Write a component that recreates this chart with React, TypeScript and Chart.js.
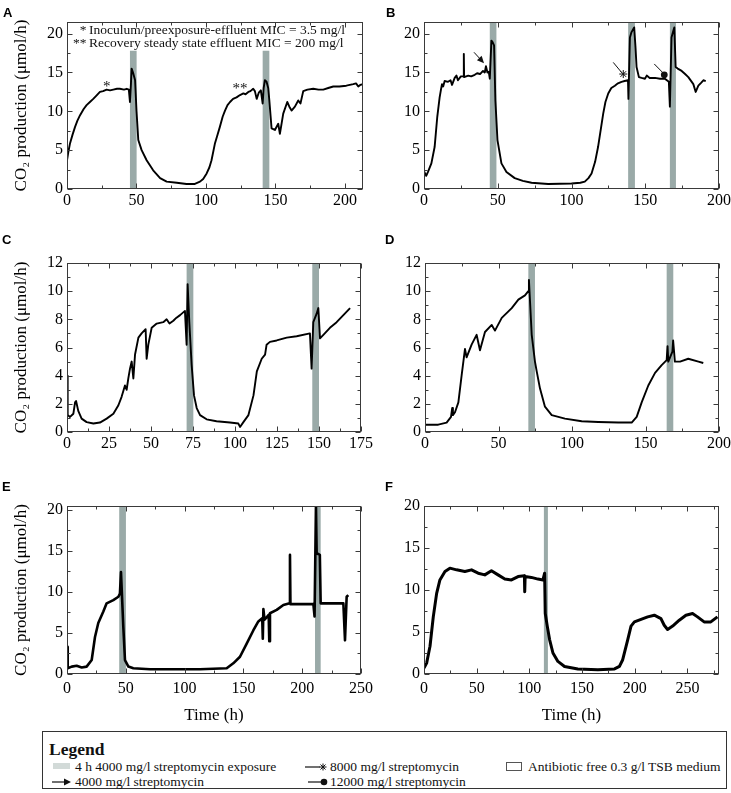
import React, { useEffect, useRef } from 'react';
import { Chart, registerables } from 'chart.js';

Chart.register(...registerables);

const SERIF = '"Liberation Serif", "Times New Roman", Times, serif';
const SANS = '"Liberation Sans", Arial, Helvetica, sans-serif';
const BAND = '#9aaaa8';
const FRAME = '#3a3a3a';

// ---------------- Panel A ----------------
const timeA = [
  0, 1, 2.2, 4, 5.8, 7.5, 9.4, 12, 14.1, 16.5,
  18.9, 21, 23.7, 26, 28.5, 31, 33.3, 36, 38, 41,
  43, 44.5, 45.3, 46, 46.5, 47.5, 49, 50, 51.3, 53.7,
  57.3, 62, 67, 71.7, 79, 86, 92, 95.7, 98, 100.5,
  102.5, 104, 106.5, 108, 110, 112, 113.7, 115.5, 117.3, 119.5,
  122, 124.5, 126.9, 128.5, 130.5, 132, 134, 135.2, 136.5, 138,
  139.5, 140.8, 141.5, 142.4, 143.6, 144.8, 145.6, 147.2, 149.6, 152,
  153.2, 155.6, 158.5, 160, 161.6, 164, 166.4, 168, 170, 173,
  177.2, 181, 184.4, 188, 191.6, 196, 201, 206, 208, 209.6,
  211, 213,
];
const co2A = [
  3.7, 4.8, 5.9, 7.0, 8.0, 8.8, 9.5, 10.3, 10.8, 11.2,
  11.6, 12.0, 12.5, 12.6, 12.8, 12.7, 12.8, 12.9, 12.9, 12.8,
  12.9, 12.8, 11.2, 13.5, 15.5, 15.0, 14.0, 10.1, 6.3, 5.0,
  3.7, 2.4, 1.4, 0.95, 0.8, 0.65, 0.65, 0.95, 1.3, 2.0,
  2.8, 3.7, 5.9, 6.8, 8.0, 9.3, 10.1, 10.8, 11.2, 11.6,
  11.8, 12.1, 12.3, 12.2, 12.5, 12.6, 12.9, 12.6, 11.6, 12.4,
  12.7, 11.0, 13.0, 14.0, 13.8, 13.0, 11.4, 7.8, 7.6, 8.4,
  7.1, 9.7, 11.2, 10.6, 10.1, 10.6, 11.4, 11.0, 12.6, 12.8,
  12.9, 12.8, 12.8, 13.0, 13.2, 13.2, 13.3, 13.5, 13.6, 13.2,
  13.4, 13.5,
];
const bandsA = [[45.3, 50.1], [140.8, 145.6]];
const starMarksA = [
  { x: 28.6, y: 13.1, text: '*' },
  { x: 124.5, y: 12.9, text: '**' },
];
const noteLinesA = [
  { mark: '*', text: 'Inoculum/preexposure-effluent MIC = 3.5 mg/l' },
  { mark: '**', text: 'Recovery steady state effluent MIC = 200 mg/l' },
];

// ---------------- Panel B ----------------
const timeB = [
  0, 1.5, 2.7, 5, 7.2, 9, 10.6, 11.5, 12.2, 13,
  14, 16.3, 18, 19, 20.8, 22, 23, 25, 26.9, 27,
  27.2, 30, 32, 34.4, 36, 38, 40, 41.2, 42, 43,
  43.9, 44.6, 45.7, 46.5, 47.5, 48.4, 49.8, 52.5, 55.9, 61.5,
  67, 72.9, 84.2, 100, 106, 109, 111.5, 113.6, 116, 118,
  121.5, 123, 124.9, 127, 129.4, 131.5, 133.9, 136, 138.3, 138.6,
  139.6, 140.7, 142.5, 143.4, 144.1, 145.7, 147.5, 149.8, 151, 153,
  156.6, 160, 163.3, 166, 166.7, 167.8, 168.8, 169.7, 170.6, 172,
  174.7, 177, 179.2, 182.6, 184.2, 186, 188, 189.4, 191,
];
const co2B = [
  2.3, 1.7, 2.2, 3.3, 5.4, 9.3, 11.8, 12.8, 13.5, 13.2,
  13.9, 13.8, 14.0, 13.4, 14.3, 14.6, 14.0, 14.5, 14.5, 17.4,
  14.4, 14.6, 14.5, 14.7, 14.9, 14.8, 15.2, 15.0, 15.8, 15.0,
  15.1, 14.2, 19.1, 18.9, 18.5, 11.4, 6.3, 3.3, 2.2, 1.4,
  1.05, 0.8, 0.65, 0.7, 0.8, 0.95, 1.4, 2.0, 3.5, 5.4,
  9.7, 11.2, 12.3, 13.0, 13.3, 13.6, 13.8, 13.9, 14.0, 11.6,
  19.5, 20.2, 20.8, 18.2, 15.7, 14.4, 14.3, 14.2, 14.6, 14.3,
  14.3, 14.2, 14.2, 13.8, 10.6, 19.5, 20.2, 20.8, 15.7, 15.5,
  15.2, 14.8, 14.4, 13.5, 12.5, 13.3, 13.7, 14.0, 13.9,
];
const bandsB = [[44.6, 49.1], [138.4, 143], [166.7, 170.8]];
const arrowsB = [
  { from: [33.9, 17.6], to: [40.7, 16.2], end: 'arrow', mark: [40.7, 16.2] },
  { from: [128.3, 16.3], to: [134.0, 15.0], end: 'star', mark: [135.1, 14.8] },
  { from: [156.1, 16.1], to: [161.8, 15.0], end: 'dot', mark: [162.9, 14.7] },
];

// ---------------- Panel C ----------------
const timeC = [
  0, 0.4, 1.8, 3.8, 4.8, 5.4, 6.7, 8.7, 11.7, 15.7,
  19.6, 23.6, 27.6, 30.6, 32.5, 34.5, 35.5, 36.5, 37.5, 38.5,
  39.5, 40.5, 42.5, 44.4, 46.8, 47.4, 48.4, 50.4, 53.4, 57.3,
  59.3, 61, 63.3, 65, 67.3, 70.2, 71.2, 71.8, 72.8, 74.2,
  75.6, 77.2, 79.2, 83.1, 89, 97, 102, 103, 105, 108,
  111, 113, 115.9, 117.9, 118.8, 120.8, 124.8, 130.8, 136.7, 144.6,
  145.6, 146.6, 148.6, 149.6, 150.6, 152.6, 156.5, 160.5, 164.5, 168.5,
];
const co2C = [
  4.0, 1.2, 1.07, 1.3, 2.1, 2.2, 1.5, 0.95, 0.7, 0.6,
  0.67, 0.95, 1.3, 1.9, 2.5, 3.3, 3.0, 3.8, 4.5, 5.0,
  3.8, 5.5, 6.7, 7.0, 7.3, 5.2, 6.2, 7.4, 7.7, 7.8,
  8.0, 7.7, 7.9, 8.1, 8.3, 8.6, 6.2, 10.5, 7.8, 4.75,
  2.6, 1.7, 1.2, 0.9, 0.76, 0.67, 0.6, 0.36, 0.7, 1.2,
  2.6, 4.3, 5.2, 5.5, 6.2, 6.4, 6.5, 6.7, 6.8, 7.0,
  4.5, 7.8, 8.4, 8.8, 6.65, 6.9, 7.4, 7.8, 8.3, 8.8,
];
const bandsC = [[71.2, 75.2], [146, 150]];

// ---------------- Panel D ----------------
const timeD = [
  0, 9, 14.7, 17.7, 18.5, 19, 20.4, 22.7, 24.9, 27.2,
  28.3, 31.7, 35.1, 37.4, 40.8, 45.4, 47.6, 52.2, 59, 63.5,
  68, 70.3, 70.7, 72.6, 74.8, 76, 78.2, 81.6, 86.2, 95.2,
  106.6, 117.9, 131.5, 140.6, 144, 147.4, 151.9, 156.5, 161, 164.4,
  165, 165.5, 166.7, 168.3, 168.8, 170, 173.5, 179.1, 186, 189.3,
];
const co2D = [
  0.52, 0.52, 0.67, 1.07, 1.7, 1.2, 1.4, 2.1, 4.0, 5.9,
  5.3, 6.2, 6.9, 5.8, 7.1, 7.6, 7.2, 8.1, 8.8, 9.4,
  9.7, 10.0, 10.8, 6.9, 5.0, 4.3, 3.1, 1.8, 1.2, 0.95,
  0.76, 0.71, 0.67, 0.67, 1.07, 2.1, 3.3, 4.2, 4.75, 5.1,
  6.1, 5.0, 5.3, 5.7, 6.5, 5.0, 5.0, 5.2, 5.0, 4.9,
];
const bandsD = [[70.3, 74.8], [164.4, 168.9]];

// ---------------- Panel E ----------------
const timeE = [
  0, 0.6, 4, 8.2, 12.5, 16.7, 21, 23.8, 26.6, 30.9,
  33.7, 39.4, 43.7, 45, 45.9, 47.9, 49.3, 52.2, 56.4, 70.6,
  84.7, 113, 135.8, 141.4, 147.1, 152.8, 158.4, 162.7, 166, 166.5,
  167, 168, 171.5, 172, 172.6, 178.3, 184, 189.3, 189.6, 190,
  198, 209.5, 210.5, 211.7, 212.3, 215, 215.7, 223.6, 229.3, 235,
  236.4, 237.8, 239.2,
];
const co2E = [
  3.3, 0.7, 0.9, 1.0, 0.8, 0.9, 1.7, 4.5, 6.2, 7.6,
  8.6, 9.0, 9.4, 9.8, 12.4, 5.7, 1.7, 0.9, 0.7, 0.57,
  0.57, 0.57, 0.7, 1.3, 2.1, 3.7, 5.3, 6.4, 6.8, 4.3,
  7.9, 6.6, 7.2, 4.0, 7.4, 7.8, 8.4, 8.6, 14.5, 8.5,
  8.5, 8.5, 7.0, 20.5, 14.7, 14.5, 8.6, 8.6, 8.6, 8.6,
  4.1, 9.4, 9.6,
];
const bandsE = [[44.4, 50.1], [210.9, 215.7]];

// ---------------- Panel F ----------------
const timeF = [
  0, 2.5, 5.7, 8.8, 12, 15.1, 19.9, 24.6, 30.9, 38.8,
  45.1, 51.4, 57.7, 64, 70.3, 76.7, 83, 89.3, 95.3, 95.6,
  96, 101.9, 108.2, 112.9, 114.5, 115.1, 117, 119.2, 122.4, 127.1,
  133.4, 146, 165, 180.8, 185.5, 188.6, 193.4, 196.5, 199.7, 206,
  212.3, 218.6, 224.9, 228, 231.2, 236, 242.3, 248.6, 254.9, 259.6,
  265.9, 272.2, 278.5,
];
const co2F = [
  0.7, 1.3, 3.3, 6.8, 9.6, 11.2, 12.2, 12.6, 12.4, 12.2,
  12.4, 12.0, 11.8, 12.3, 11.8, 11.3, 11.2, 11.6, 11.7, 9.8,
  11.6, 11.5, 11.3, 11.2, 12.0, 7.2, 5.7, 4.1, 2.5, 1.5,
  0.9, 0.6, 0.5, 0.6, 0.9, 1.7, 4.1, 5.7, 6.2, 6.5,
  6.8, 7.0, 6.6, 5.8, 5.3, 5.7, 6.4, 7.0, 7.2, 6.8,
  6.2, 6.2, 6.8,
];
const bandsF = [[113.8, 117.6]];

// ---------------- Tick labels ----------------
const xTicksA = [0, 50, 100, 150, 200];
const xTicksB = [0, 50, 100, 150, 200];
const xTicksC = [0, 25, 50, 75, 100, 125, 150, 175];
const xTicksD = [0, 50, 100, 150, 200];
const xTicksE = [0, 50, 100, 150, 200, 250];
const xTicksF = [0, 50, 100, 150, 200, 250];
const yTicks20 = [0, 5, 10, 15, 20];
const yTicks12 = [0, 2, 4, 6, 8, 10, 12];

const Y_TITLE = 'CO\u2082 production (\u03bcmol/h)';
const X_TITLE = 'Time (h)';

type Panel = {
  id: string;
  left: number; top: number; width: number; height: number;
  plot: { l: number; t: number; r: number; b: number };
  time: number[]; co2: number[];
  xMax: number; yMax: number;
  xTicks: number[]; yTicks: number[];
  bands: number[][]; bandTop?: number;
  lineWidth: number; yTitle: boolean; xTitle: boolean; xPad: number;
  letter: [number, number];
  extra?: (chart: any) => void;
};

function drawA(chart: any) {
  const { ctx, chartArea: ca, scales: { x, y } } = chart;
  ctx.save();
  ctx.fillStyle = '#111';
  ctx.font = `15px ${SERIF}`;
  ctx.textAlign = 'center';
  ctx.textBaseline = 'middle';
  starMarksA.forEach((m) => ctx.fillText(m.text, x.getPixelForValue(m.x), y.getPixelForValue(m.y)));
  ctx.font = `13.5px ${SERIF}`;
  ctx.textBaseline = 'alphabetic';
  noteLinesA.forEach((line, i) => {
    const base = ca.top + 12 + i * 12.7;
    ctx.textAlign = 'right';
    ctx.fillText(line.mark, ca.left + 19.5, base);
    ctx.textAlign = 'left';
    ctx.fillText(line.text, ca.left + 22, base);
  });
  ctx.restore();
}

function drawStar(ctx: CanvasRenderingContext2D, cx: number, cy: number, r: number) {
  for (let k = 0; k < 4; k++) {
    const a = (k * Math.PI) / 4;
    ctx.beginPath();
    ctx.moveTo(cx - r * Math.cos(a), cy - r * Math.sin(a));
    ctx.lineTo(cx + r * Math.cos(a), cy + r * Math.sin(a));
    ctx.stroke();
  }
}

function drawB(chart: any) {
  const { ctx, scales: { x, y } } = chart;
  ctx.save();
  ctx.strokeStyle = '#111';
  ctx.fillStyle = '#111';
  ctx.lineWidth = 1;
  arrowsB.forEach((a) => {
    const x1 = x.getPixelForValue(a.from[0]);
    const y1 = y.getPixelForValue(a.from[1]);
    const x2 = x.getPixelForValue(a.to[0]);
    const y2 = y.getPixelForValue(a.to[1]);
    const ang = Math.atan2(y2 - y1, x2 - x1);
    ctx.beginPath();
    ctx.moveTo(x1, y1);
    if (a.end === 'arrow') {
      ctx.lineTo(x2 - 4 * Math.cos(ang), y2 - 4 * Math.sin(ang));
    } else {
      ctx.lineTo(x2, y2);
    }
    ctx.stroke();
    const mx = x.getPixelForValue(a.mark[0]);
    const my = y.getPixelForValue(a.mark[1]);
    if (a.end === 'arrow') {
      const L = 7, W = 3.2;
      ctx.beginPath();
      ctx.moveTo(mx, my);
      ctx.lineTo(mx - L * Math.cos(ang) + W * Math.sin(ang), my - L * Math.sin(ang) - W * Math.cos(ang));
      ctx.lineTo(mx - L * Math.cos(ang) - W * Math.sin(ang), my - L * Math.sin(ang) + W * Math.cos(ang));
      ctx.closePath();
      ctx.fill();
    } else if (a.end === 'star') {
      drawStar(ctx, mx, my, 4);
    } else {
      ctx.beginPath();
      ctx.arc(mx, my, 3.4, 0, Math.PI * 2);
      ctx.fill();
    }
  });
  ctx.restore();
}

const panels: Panel[] = [
  {
    id: 'A', left: 0, top: 0, width: 385, height: 215,
    plot: { l: 67, t: 22, r: 363, b: 189 },
    time: timeA, co2: co2A, xMax: 213, yMax: 21.5,
    xTicks: xTicksA, yTicks: yTicks20, bands: bandsA, bandTop: 17.8,
    lineWidth: 1.9, yTitle: true, xTitle: false, xPad: 2, letter: [3, 17], extra: drawA,
  },
  {
    id: 'B', left: 365, top: 0, width: 366, height: 215,
    plot: { l: 424, t: 22, r: 719, b: 189 },
    time: timeB, co2: co2B, xMax: 200, yMax: 21.5,
    xTicks: xTicksB, yTicks: yTicks20, bands: bandsB,
    lineWidth: 1.9, yTitle: false, xTitle: false, xPad: 2, letter: [386, 17], extra: drawB,
  },
  {
    id: 'C', left: 0, top: 215, width: 385, height: 235,
    plot: { l: 67, t: 263, r: 361, b: 432 },
    time: timeC, co2: co2C, xMax: 175, yMax: 12,
    xTicks: xTicksC, yTicks: yTicks12, bands: bandsC,
    lineWidth: 1.9, yTitle: true, xTitle: false, xPad: 2, letter: [2, 244],
  },
  {
    id: 'D', left: 365, top: 215, width: 366, height: 235,
    plot: { l: 425, t: 263, r: 719, b: 432 },
    time: timeD, co2: co2D, xMax: 200, yMax: 12,
    xTicks: xTicksD, yTicks: yTicks12, bands: bandsD,
    lineWidth: 1.9, yTitle: false, xTitle: false, xPad: 2, letter: [385, 244],
  },
  {
    id: 'E', left: 0, top: 450, width: 385, height: 280,
    plot: { l: 67, t: 506, r: 361, b: 674 },
    time: timeE, co2: co2E, xMax: 250, yMax: 20.45,
    xTicks: xTicksE, yTicks: yTicks20, bands: bandsE,
    lineWidth: 2.6, yTitle: true, xTitle: true, xPad: 5, letter: [2, 491],
  },
  {
    id: 'F', left: 365, top: 450, width: 366, height: 280,
    plot: { l: 424, t: 506, r: 719, b: 674 },
    time: timeF, co2: co2F, xMax: 280, yMax: 20,
    xTicks: xTicksF, yTicks: yTicks20, bands: bandsF,
    lineWidth: 3, yTitle: false, xTitle: true, xPad: 5, letter: [385, 491],
  },
];

function midTicks(ticks: number[], max: number) {
  const out: number[] = [];
  for (let i = 0; i < ticks.length; i++) {
    const step = i + 1 < ticks.length ? ticks[i + 1] - ticks[i] : ticks[i] - ticks[i - 1];
    const m = ticks[i] + step / 2;
    if (m < max) out.push(m);
  }
  return out;
}

function decoPlugin(p: Panel) {
  return {
    id: 'deco' + p.id,
    beforeDatasetsDraw(chart: any) {
      const { ctx, chartArea: ca, scales: { x, y } } = chart;
      ctx.save();
      ctx.fillStyle = BAND;
      const top = p.bandTop != null ? y.getPixelForValue(p.bandTop) : ca.top;
      p.bands.forEach(([a, b]) => {
        const xa = x.getPixelForValue(a);
        const xb = x.getPixelForValue(b);
        ctx.fillRect(xa, top, xb - xa, ca.bottom - top);
      });
      ctx.restore();
    },
    afterDatasetsDraw(chart: any) {
      const { ctx, chartArea: ca, scales: { x, y } } = chart;
      ctx.save();
      ctx.strokeStyle = FRAME;
      ctx.lineWidth = 1;
      const L = Math.round(ca.left) + 0.5;
      const R = Math.round(ca.right) - 0.5;
      const T = Math.round(ca.top) + 0.5;
      const B = Math.round(ca.bottom) - 0.5;
      ctx.strokeRect(L, T, R - L, B - T);
      const seg = (x1: number, y1: number, x2: number, y2: number) => {
        ctx.beginPath(); ctx.moveTo(x1, y1); ctx.lineTo(x2, y2); ctx.stroke();
      };
      const xt = (v: number, len: number) => {
        const px = Math.round(x.getPixelForValue(v)) + 0.5;
        seg(px, B, px, B - len); seg(px, T, px, T + len);
      };
      const yt = (v: number, len: number) => {
        const py = Math.round(y.getPixelForValue(v)) + 0.5;
        seg(L, py, L + len, py); seg(R, py, R - len, py);
      };
      p.xTicks.forEach((v) => xt(v, 5));
      midTicks(p.xTicks, p.xMax).forEach((v) => xt(v, 3));
      p.yTicks.forEach((v) => yt(v, 5));
      midTicks(p.yTicks, p.yMax).forEach((v) => yt(v, 3));
      ctx.restore();
    },
    afterDraw(chart: any) {
      if (p.extra) p.extra(chart);
      const { ctx } = chart;
      ctx.save();
      ctx.fillStyle = '#000';
      ctx.font = `bold 13px ${SANS}`;
      ctx.textAlign = 'left';
      ctx.textBaseline = 'alphabetic';
      ctx.fillText(p.id, p.letter[0] - p.left, p.letter[1] - p.top);
      ctx.restore();
    },
  };
}

function makeChart(canvas: HTMLCanvasElement, p: Panel) {
  const plotL = p.plot.l - p.left;
  const plotT = p.plot.t - p.top;
  const plotR = p.plot.r - p.left;
  const plotB = p.plot.b - p.top;
  const tickFont = { family: SERIF, size: 16 };
  return new Chart(canvas, {
    type: 'line',
    data: {
      datasets: [
        {
          data: p.time.map((t, i) => ({ x: t, y: p.co2[i] })),
          borderColor: '#000',
          borderWidth: p.lineWidth,
          pointRadius: 0,
          tension: 0,
          fill: false,
          borderJoinStyle: 'round',
        } as any,
      ],
    },
    options: {
      animation: false,
      responsive: false,
      maintainAspectRatio: false,
      events: [],
      layout: { padding: { left: 0, top: plotT, right: p.width - plotR, bottom: 0 } },
      plugins: { legend: { display: false }, tooltip: { enabled: false } },
      scales: {
        x: {
          type: 'linear',
          min: 0,
          max: p.xMax,
          grid: { display: false, drawTicks: false },
          border: { display: false },
          ticks: { font: tickFont, color: '#000', padding: p.xPad, maxRotation: 0, autoSkip: false },
          afterBuildTicks: (s: any) => { s.ticks = p.xTicks.map((v) => ({ value: v })); },
          afterFit: (s: any) => { s.height = p.height - plotB; s.paddingLeft = 0; s.paddingRight = 0; },
          title: {
            display: p.xTitle, text: X_TITLE, color: '#000',
            font: { family: SERIF, size: 17 }, padding: { top: 0, bottom: 4 },
          },
        },
        y: {
          type: 'linear',
          min: 0,
          max: p.yMax,
          grid: { display: false, drawTicks: false },
          border: { display: false },
          ticks: { font: tickFont, color: '#000', padding: 4, autoSkip: false },
          afterBuildTicks: (s: any) => { s.ticks = p.yTicks.map((v) => ({ value: v })); },
          afterFit: (s: any) => { s.width = plotL; s.paddingTop = 0; s.paddingBottom = 0; },
          title: {
            display: p.yTitle, text: Y_TITLE, color: '#000',
            font: { family: SERIF, size: 17 }, padding: { top: 11, bottom: 0 },
          },
        },
      },
    } as any,
    plugins: [decoPlugin(p) as any],
  });
}

function PanelChart({ p }: { p: Panel }) {
  const ref = useRef<HTMLCanvasElement | null>(null);
  useEffect(() => {
    if (!ref.current) return;
    const chart = makeChart(ref.current, p);
    return () => chart.destroy();
  }, [p]);
  return (
    <canvas
      ref={ref}
      width={p.width}
      height={p.height}
      style={{ position: 'absolute', left: p.left, top: p.top, width: p.width, height: p.height, display: 'block' }}
    />
  );
}

const legendText: React.CSSProperties = {
  position: 'absolute', fontSize: 13.5, lineHeight: '13px', whiteSpace: 'nowrap',
};

function Legend() {
  return (
    <div
      style={{
        position: 'absolute', left: 42, top: 731, width: 685, height: 58,
        border: '1px solid #333', boxSizing: 'border-box', fontFamily: SERIF, color: '#111',
        background: '#fff',
      }}
    >
      <div style={{ position: 'absolute', left: 6, top: 9, fontSize: 17.5, lineHeight: '17px', fontWeight: 'bold' }}>
        Legend
      </div>
      <div style={{ position: 'absolute', left: 10, top: 31, width: 17, height: 6, background: '#d2dad8' }} />
      <div style={{ ...legendText, left: 32, top: 28 }}>4 h 4000 mg/l streptomycin exposure</div>
      <svg style={{ position: 'absolute', left: 9, top: 44 }} width={20} height={12}>
        <line x1={0} y1={6} x2={13} y2={6} stroke="#111" strokeWidth={1.2} />
        <polygon points="19,6 12,2.6 12,9.4" fill="#111" />
      </svg>
      <div style={{ ...legendText, left: 32, top: 43 }}>4000 mg/l streptomycin</div>
      <svg style={{ position: 'absolute', left: 262, top: 29 }} width={24} height={12}>
        <line x1={0} y1={6} x2={15} y2={6} stroke="#111" strokeWidth={1.2} />
        <g stroke="#111" strokeWidth={1}>
          <line x1={14.5} y1={6} x2={21.5} y2={6} />
          <line x1={18} y1={2.5} x2={18} y2={9.5} />
          <line x1={15.5} y1={3.5} x2={20.5} y2={8.5} />
          <line x1={20.5} y1={3.5} x2={15.5} y2={8.5} />
        </g>
      </svg>
      <div style={{ ...legendText, left: 287, top: 28 }}>8000 mg/l streptomycin</div>
      <svg style={{ position: 'absolute', left: 265, top: 44 }} width={22} height={12}>
        <line x1={0} y1={6} x2={14} y2={6} stroke="#111" strokeWidth={1.2} />
        <circle cx={16} cy={6} r={3.3} fill="#111" />
      </svg>
      <div style={{ ...legendText, left: 287, top: 43 }}>12000 mg/l streptomycin</div>
      <div
        style={{
          position: 'absolute', left: 463, top: 30, width: 16, height: 9,
          border: '1px solid #555', boxSizing: 'border-box', background: '#fff',
        }}
      />
      <div style={{ ...legendText, left: 485, top: 28 }}>Antibiotic free 0.3 g/l TSB medium</div>
    </div>
  );
}

export default function App() {
  return (
    <div
      style={{
        position: 'absolute', left: 0, top: 0, width: 731, height: 793,
        background: '#fff', overflow: 'hidden',
      }}
    >
      {panels.map((p) => (
        <PanelChart key={p.id} p={p} />
      ))}
      <Legend />
    </div>
  );
}
